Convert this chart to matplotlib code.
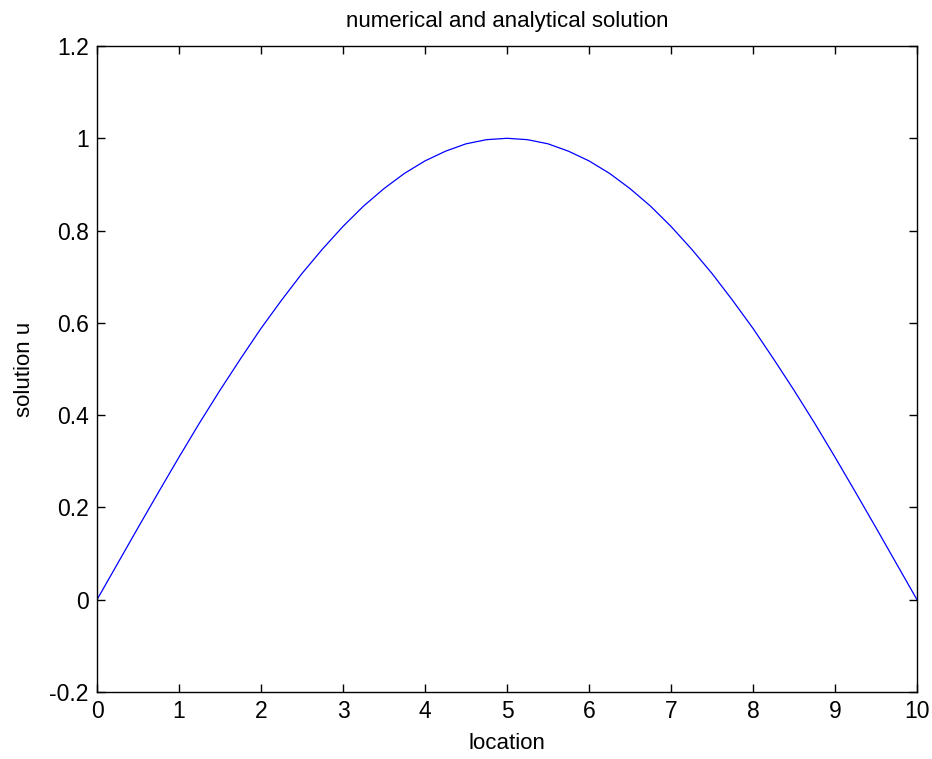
import matplotlib.pyplot as plt
import numpy as np

plt.rcParams["font.family"] = ["Liberation Sans", "DejaVu Sans"]

# values
location = [0, 0.25, 0.5, 0.75, 1, 1.25, 1.5, 1.75, 2, 2.25, 2.5, 2.75,
            3, 3.25, 3.5, 3.75, 4, 4.25, 4.5, 4.75, 5, 5.25, 5.5, 5.75,
            6, 6.25, 6.5, 6.75, 7, 7.25, 7.5, 7.75, 8, 8.25, 8.5, 8.75,
            9, 9.25, 9.5, 9.75, 10]
solution = [0.0, 0.078, 0.156, 0.233, 0.309, 0.383, 0.454, 0.522, 0.588,
            0.649, 0.707, 0.760, 0.809, 0.853, 0.891, 0.924, 0.951, 0.972,
            0.988, 0.997, 1.0, 0.997, 0.988, 0.972, 0.951, 0.924, 0.891,
            0.853, 0.809, 0.760, 0.707, 0.649, 0.588, 0.522, 0.454, 0.383,
            0.309, 0.233, 0.156, 0.078, 0.0]

xticks = list(range(0, 11))
yticks = [-0.2, 0, 0.2, 0.4, 0.6, 0.8, 1, 1.2]
ytick_labels = ["-0.2", "0", "0.2", "0.4", "0.6", "0.8", "1", "1.2"]

fig = plt.figure(figsize=(9.32, 7.59), dpi=100)
ax = fig.add_axes([97 / 932, 1 - 692 / 759, 820 / 932, 646 / 759])

ax.plot(location, solution, color="#0000ff", linewidth=0.9)

ax.set_xlim(0, 10)
ax.set_ylim(-0.2, 1.2)
ax.set_xticks(xticks)
ax.set_xticklabels([str(t) for t in xticks])
ax.set_yticks(yticks)
ax.set_yticklabels(ytick_labels)
ax.tick_params(direction="in", length=6, width=1, top=True, right=True,
               labelsize=16.5, pad=6)
for s in ax.spines.values():
    s.set_linewidth(1)

ax.set_title("numerical and analytical solution", fontsize=16, pad=14)
ax.set_xlabel("location", fontsize=16, labelpad=7)
ax.set_ylabel("solution u", fontsize=16, labelpad=10)

fig.savefig("out.png", dpi=100)
